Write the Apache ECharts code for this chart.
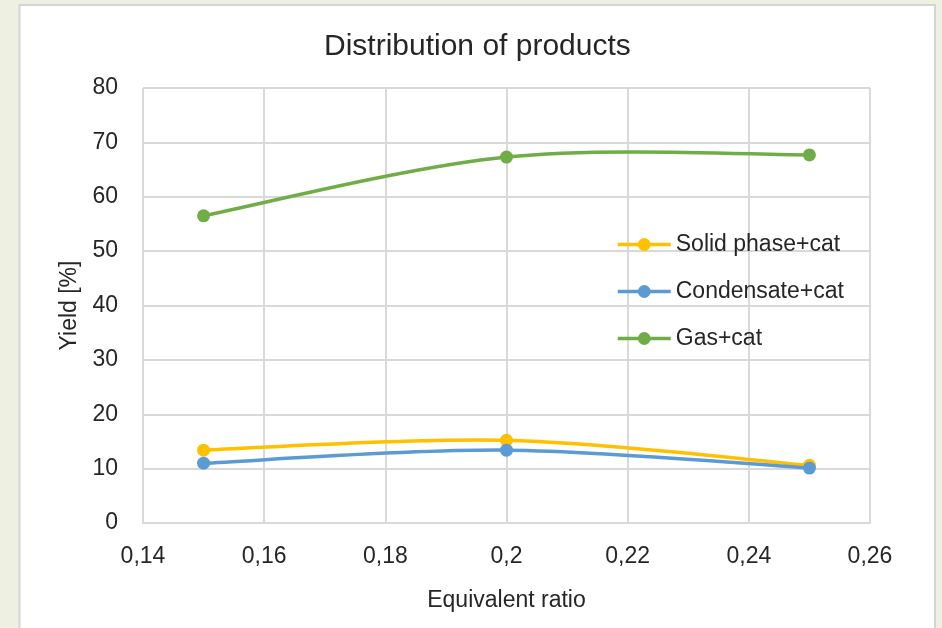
<!DOCTYPE html>
<html>
<head>
<meta charset="utf-8">
<title>Distribution of products</title>
<script src="https://cdn.jsdelivr.net/npm/echarts@6/dist/echarts.min.js"></script>
<style>
  html, body { margin: 0; padding: 0; background: #eef0e2; }
  #chart { width: 942px; height: 628px; }
</style>
</head>
<body>
<div id="chart"></div>
<script>
// Equivalent ratio values on the x axis
const ratios = [0.15, 0.2, 0.25];

// Yield [%] for each product fraction
const solidPhase = [13.4, 15.2, 10.6];
const condensate = [11.0, 13.4, 10.1];
const gas = [56.5, 67.3, 67.7];

const seriesNames = ['Solid phase+cat', 'Condensate+cat', 'Gas+cat'];
const seriesColors = ['#FFC000', '#5B9BD5', '#70AD47'];

// Tick labels shown on the x axis (decimal comma)
const xTickLabels = ['0,14', '0,16', '0,18', '0,2', '0,22', '0,24', '0,26'];

const FONT = 'Liberation Sans, Arial, sans-serif';
const TEXT = '#262626';
const GRID_LINE = '#d9d9d9';
const LINE_WIDTH = 3.5;

const chart = echarts.init(document.getElementById('chart'), null, { renderer: 'canvas' });

// Cardinal-spline curve through the points (spreadsheet-style smoothing),
// built in pixel space from the axis coordinates.
function smoothCurve(values, color) {
  return {
    type: 'custom',
    silent: true,
    data: [0],
    z: 2,
    renderItem: function (params, api) {
      const pts = ratios.map((x, i) => api.coord([x, values[i]]));
      const n = pts.length;
      const path = [];
      path.push('M' + pts[0][0] + ' ' + pts[0][1]);
      for (let i = 0; i < n - 1; i++) {
        const p0 = pts[Math.max(i - 1, 0)];
        const p1 = pts[i];
        const p2 = pts[i + 1];
        const p3 = pts[Math.min(i + 2, n - 1)];
        const c1x = p1[0] + (p2[0] - p0[0]) / 6;
        const c1y = p1[1] + (p2[1] - p0[1]) / 6;
        const c2x = p2[0] - (p3[0] - p1[0]) / 6;
        const c2y = p2[1] - (p3[1] - p1[1]) / 6;
        path.push('C' + c1x + ' ' + c1y + ' ' + c2x + ' ' + c2y + ' ' + p2[0] + ' ' + p2[1]);
      }
      return {
        type: 'path',
        shape: { pathData: path.join(' ') },
        style: { fill: null, stroke: color, lineWidth: LINE_WIDTH, lineCap: 'round', lineJoin: 'round' }
      };
    }
  };
}

// Markers (and legend entries) for each series
function markerSeries(name, values, color) {
  return {
    name: name,
    type: 'line',
    data: ratios.map((x, i) => [x, values[i]]),
    symbol: 'circle',
    symbolSize: 13,
    lineStyle: { color: color, width: LINE_WIDTH, opacity: 0 },
    itemStyle: { color: color },
    z: 3
  };
}

chart.setOption({
  backgroundColor: '#eef0e2',
  animation: false,
  graphic: [{
    type: 'rect',
    shape: { x: 19.5, y: 5, width: 915.5, height: 640 },
    style: { fill: '#ffffff', stroke: '#d4d4d4', lineWidth: 2 },
    z: -10,
    silent: true
  }],
  title: {
    text: 'Distribution of products',
    left: 319,
    top: 27,
    textStyle: { fontFamily: FONT, fontSize: 30, fontWeight: 'normal', color: TEXT }
  },
  legend: {
    orient: 'vertical',
    left: 611,
    top: 228,
    itemWidth: 53,
    itemHeight: 16,
    itemGap: 24,
    textStyle: { fontFamily: FONT, fontSize: 23, color: TEXT },
    data: seriesNames.map((name, i) => ({
      name: name,
      lineStyle: { color: seriesColors[i], width: LINE_WIDTH, opacity: 1 }
    }))
  },
  grid: { left: 143, right: 72, top: 88, bottom: 105, containLabel: false },
  xAxis: {
    type: 'value',
    min: 0.14,
    max: 0.26,
    interval: 0.02,
    name: 'Equivalent ratio',
    nameLocation: 'middle',
    nameGap: 66,
    nameTextStyle: { fontFamily: FONT, fontSize: 23, color: TEXT },
    axisLine: { show: true, lineStyle: { color: GRID_LINE, width: 2 } },
    axisTick: { show: false },
    axisLabel: {
      fontFamily: FONT, fontSize: 23, color: TEXT, margin: 22,
      formatter: function (v) {
        const idx = Math.round((v - 0.14) / 0.02);
        return xTickLabels[idx] !== undefined ? xTickLabels[idx] : '';
      }
    },
    splitLine: { show: true, lineStyle: { color: GRID_LINE, width: 2 } }
  },
  yAxis: {
    type: 'value',
    min: 0,
    max: 80,
    interval: 10,
    name: 'Yield [%]',
    nameLocation: 'middle',
    nameGap: 62,
    nameRotate: 90,
    nameTextStyle: { fontFamily: FONT, fontSize: 23, color: TEXT },
    axisLine: { show: false },
    axisTick: { show: false },
    axisLabel: { fontFamily: FONT, fontSize: 23, color: TEXT, margin: 25 },
    splitLine: { show: true, lineStyle: { color: GRID_LINE, width: 2 } }
  },
  series: [
    smoothCurve(solidPhase, seriesColors[0]),
    smoothCurve(condensate, seriesColors[1]),
    smoothCurve(gas, seriesColors[2]),
    markerSeries(seriesNames[0], solidPhase, seriesColors[0]),
    markerSeries(seriesNames[1], condensate, seriesColors[1]),
    markerSeries(seriesNames[2], gas, seriesColors[2])
  ]
});
</script>
</body>
</html>
